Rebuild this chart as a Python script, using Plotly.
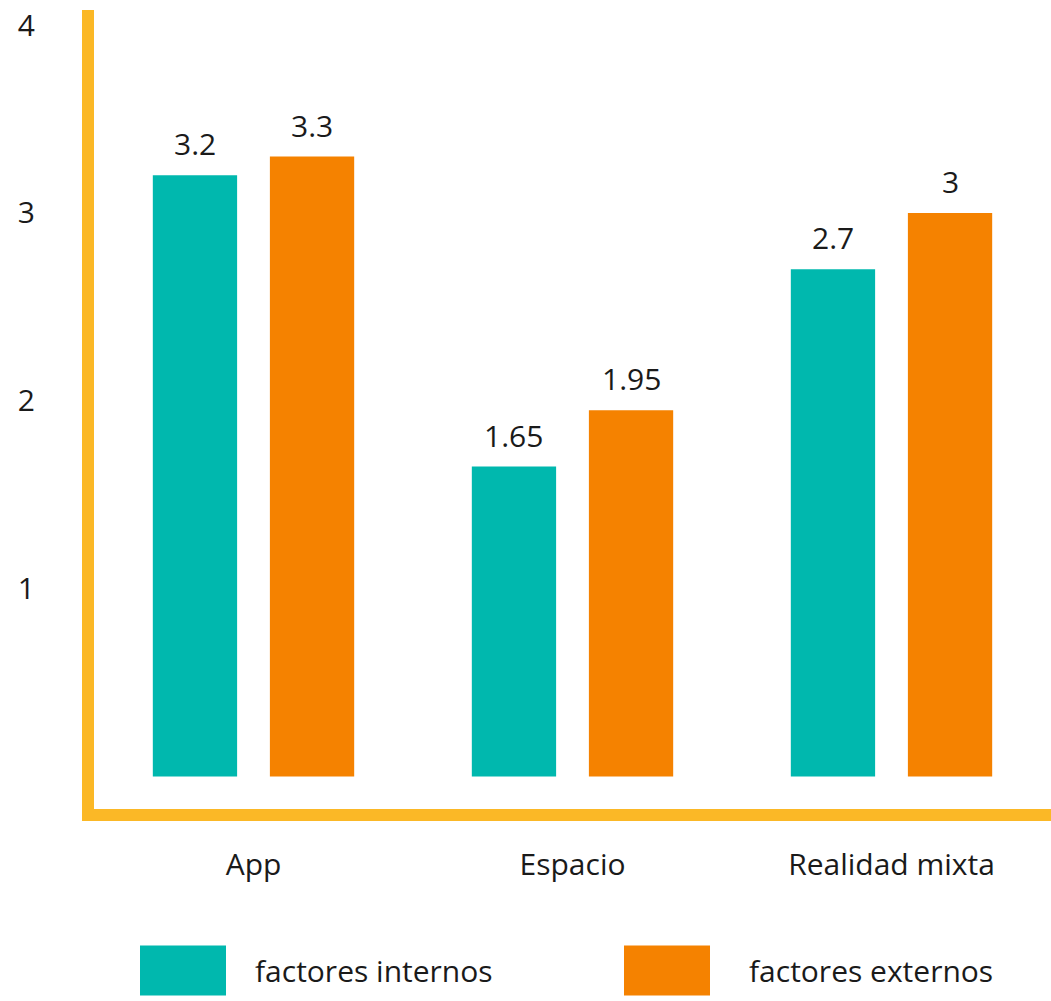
import plotly.graph_objects as go

categories = ["App", "Espacio", "Realidad mixta"]
internos = [3.2, 1.65, 2.7]
externos = [3.3, 1.95, 3.0]
series_names = ["factores internos", "factores externos"]
y_ticks = [1, 2, 3, 4]

TEAL = "#00B8AE"
ORANGE = "#F58200"
YELLOW = "#FBB826"
TXT = "#1a1a1a"
FONT = "Open Sans"
FS = 30

W, H = 1051, 1001
ML, MR, MT, MB = 94, 0, 10, 191.5
BARGAP, GROUPGAP = 0.266, 0.28

fig = go.Figure()
fig.add_trace(go.Bar(x=categories, y=internos, name=series_names[0],
                     marker=dict(color=TEAL, line=dict(width=0)), showlegend=False))
fig.add_trace(go.Bar(x=categories, y=externos, name=series_names[1],
                     marker=dict(color=ORANGE, line=dict(width=0)), showlegend=False))

# value labels above bars
plot_w = W - ML - MR
slot = plot_w / len(categories) * (1 - BARGAP) / 2
annotations = []
for vals, sh in [(internos, -slot / 2), (externos, slot / 2)]:
    for c, v in zip(categories, vals):
        annotations.append(dict(x=c, y=v, xref="x", yref="y", text=f"{v:g}",
                                showarrow=False, yanchor="bottom", xshift=sh, yshift=9,
                                font=dict(family=FONT, size=FS, color=TXT)))

# custom legend
plot_h = H - MT - MB
def px2x(p):
    return (p - ML) / plot_w
def px2y(p):
    return (H - MB - p) / plot_h

shapes = []
for (x0, x1, tx), col, name in zip([(140, 226, 253), (624, 710, 747)], [TEAL, ORANGE], series_names):
    shapes.append(dict(type="rect", xref="paper", yref="paper",
                       x0=px2x(x0), x1=px2x(x1), y0=px2y(996), y1=px2y(946),
                       fillcolor=col, line=dict(width=0)))
    annotations.append(dict(x=px2x(tx), y=px2y(971), xref="paper", yref="paper",
                            text=name, showarrow=False, xanchor="left", yanchor="middle",
                            font=dict(family=FONT, size=FS, color=TXT)))

fig.update_layout(
    width=W, height=H,
    margin=dict(l=ML, r=MR, t=MT, b=MB, pad=0),
    paper_bgcolor="white", plot_bgcolor="white",
    barmode="group", bargap=BARGAP, bargroupgap=GROUPGAP,
    font=dict(family=FONT, size=FS, color=TXT),
    annotations=annotations, shapes=shapes,
    showlegend=False,
)
fig.update_xaxes(showline=True, linecolor=YELLOW, linewidth=12, showgrid=False,
                 ticks="", ticklabelstandoff=18, tickfont=dict(family=FONT, size=FS, color=TXT))
fig.update_yaxes(range=[-0.173, 4.08], tickvals=y_ticks, showline=True, linecolor=YELLOW,
                 linewidth=12, showgrid=False, zeroline=False, ticks="",
                 ticklabelstandoff=41, tickfont=dict(family=FONT, size=FS, color=TXT))

fig.write_html("out.html")
